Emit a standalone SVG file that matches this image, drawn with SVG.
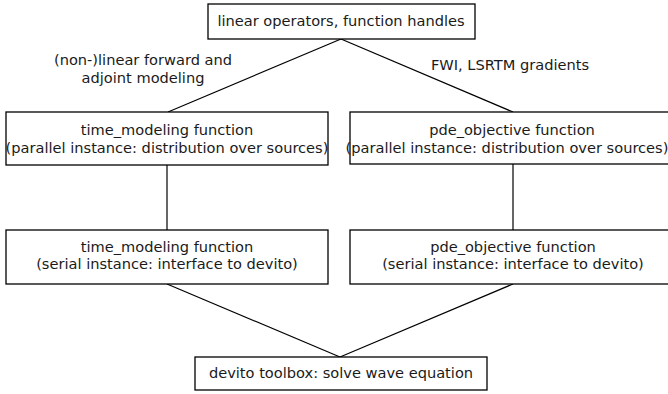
<svg xmlns="http://www.w3.org/2000/svg" width="668" height="394" viewBox="0 0 668 394">
<style>
.box{fill:#fff;stroke:#000;stroke-width:1.3}
.t{font-family:"DejaVu Sans",sans-serif;font-size:14.6px;fill:#1a1a1a;text-anchor:middle}
.c{stroke:#000;stroke-width:1.2;fill:none}
</style>
<rect width="668" height="394" fill="#fff"/>
<g id="connectors">
<line class="c" x1="341" y1="39" x2="168" y2="112"/>
<line class="c" x1="341" y1="39" x2="513" y2="112"/>
<line class="c" x1="167" y1="165" x2="167" y2="230"/>
<line class="c" x1="513" y1="164" x2="513" y2="230"/>
<line class="c" x1="167" y1="284" x2="340" y2="357"/>
<line class="c" x1="513" y1="284" x2="340" y2="357"/>
</g>
<g id="labels">
<text class="t" x="143" y="65">(non-)linear forward and</text>
<text class="t" x="143" y="83">adjoint modeling</text>
<text class="t" x="510" y="70">FWI, LSRTM gradients</text>
</g>
<g id="top">
<rect class="box" x="208" y="4" width="267" height="35"/>
<text class="t" x="341" y="26">linear operators, function handles</text>
</g>
<g id="tm_parallel">
<rect class="box" x="6" y="112" width="322" height="53"/>
<text class="t" x="167" y="135">time_modeling function</text>
<text class="t" x="167" y="153">(parallel instance: distribution over sources)</text>
</g>
<g id="pde_parallel">
<rect class="box" x="350" y="112" width="326" height="52"/>
<text class="t" x="512" y="135">pde_objective function</text>
<text class="t" x="507" y="153">(parallel instance: distribution over sources)</text>
</g>
<g id="tm_serial">
<rect class="box" x="6" y="230" width="322" height="54"/>
<text class="t" x="167" y="252">time_modeling function</text>
<text class="t" x="167" y="269">(serial instance: interface to devito)</text>
</g>
<g id="pde_serial">
<rect class="box" x="350" y="230" width="326" height="54"/>
<text class="t" x="513" y="252">pde_objective function</text>
<text class="t" x="513" y="269">(serial instance: interface to devito)</text>
</g>
<g id="devito">
<rect class="box" x="195" y="357" width="292" height="33"/>
<text class="t" x="341" y="378">devito toolbox: solve wave equation</text>
</g>
</svg>
